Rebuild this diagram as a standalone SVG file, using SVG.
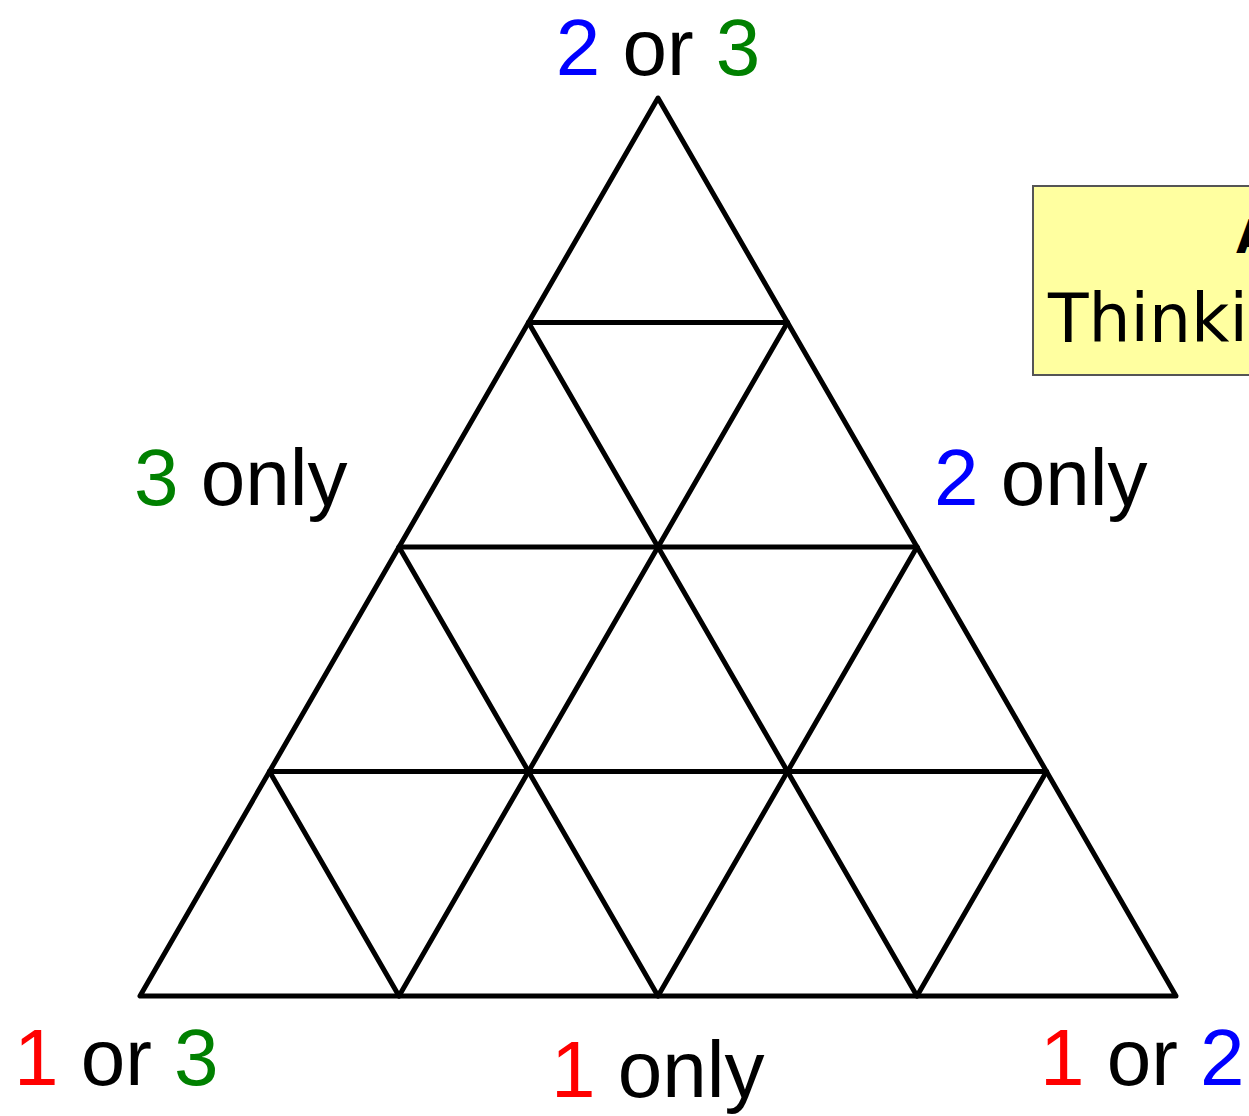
<svg xmlns="http://www.w3.org/2000/svg" width="1249" height="1116" viewBox="0 0 1249 1116">
<style>
.l{font-family:"Liberation Sans",Arial,sans-serif;font-size:80px;fill:#000}
.r{fill:#ff0000}.b{fill:#0000ff}.g{fill:#008000}
.e{stroke:#000;stroke-width:5;fill:none;stroke-linecap:round;stroke-linejoin:round}
</style>
<rect width="1249" height="1116" fill="#fff"/>
<g id="note">
<rect x="1033" y="186" width="240" height="189" fill="#ffffa0" stroke="#555" stroke-width="2"/>
<text x="1236" y="253" font-family="'DejaVu Sans',sans-serif" font-size="46" font-weight="bold">A</text>
<text x="1048" y="342" font-family="'DejaVu Sans',sans-serif" font-size="67" textLength="200" lengthAdjust="spacingAndGlyphs">Thinki</text>
</g>
<g id="connectors">
<polygon class="e" points="658,98 140,996 1176,996"/>
<line class="e" x1="528.5" y1="322.5" x2="787.5" y2="322.5"/>
<line class="e" x1="399" y1="547" x2="917" y2="547"/>
<line class="e" x1="269.5" y1="771.5" x2="1046.5" y2="771.5"/>
<line class="e" x1="399" y1="996" x2="787.5" y2="322.5"/>
<line class="e" x1="658" y1="996" x2="917" y2="547"/>
<line class="e" x1="917" y1="996" x2="1046.5" y2="771.5"/>
<line class="e" x1="917" y1="996" x2="528.5" y2="322.5"/>
<line class="e" x1="658" y1="996" x2="399" y2="547"/>
<line class="e" x1="399" y1="996" x2="269.5" y2="771.5"/>
</g>
<g id="labels">
<text class="l" x="658" y="75" text-anchor="middle"><tspan class="b">2</tspan> or <tspan class="g">3</tspan></text>
<text class="l" x="134" y="505"><tspan class="g">3</tspan> only</text>
<text class="l" x="934" y="505"><tspan class="b">2</tspan> only</text>
<text class="l" x="14" y="1085"><tspan class="r">1</tspan> or <tspan class="g">3</tspan></text>
<text class="l" x="1040" y="1085"><tspan class="r">1</tspan> or <tspan class="b">2</tspan></text>
<text class="l" x="551" y="1097"><tspan class="r">1</tspan> only</text>
</g>
</svg>
